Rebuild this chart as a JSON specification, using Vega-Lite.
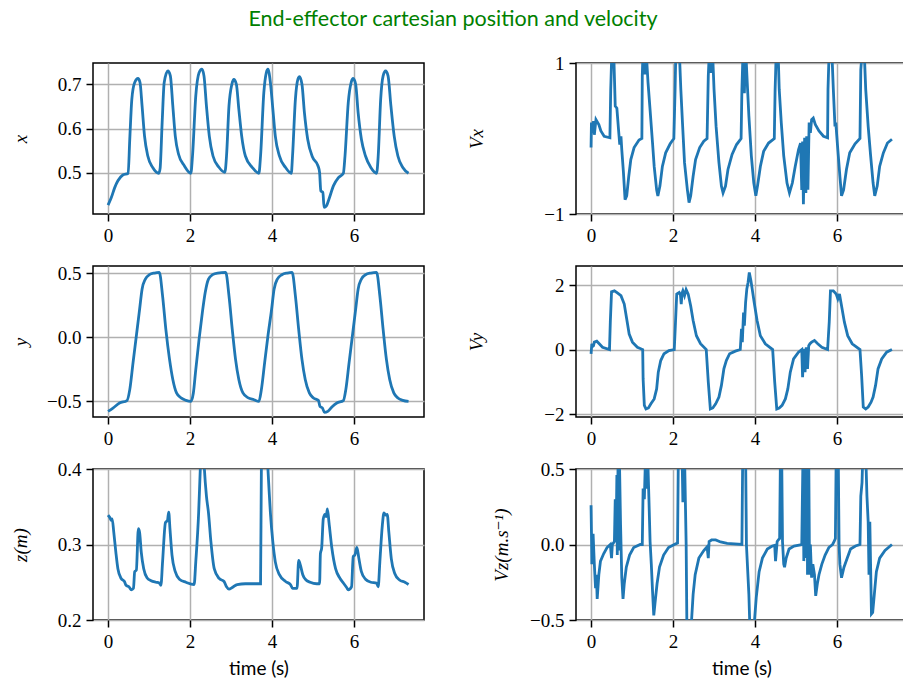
{
  "$schema": "https://vega.github.io/schema/vega-lite/v6.json",
  "padding": {"left": 10, "top": 8, "right": 0, "bottom": 5},
  "title": {"text": "End-effector cartesian position and velocity", "color": "#008000", "font": "Lato", "fontSize": 21.5, "fontWeight": "normal", "anchor": "middle", "offset": 23, "dx": -6},
  "config": {
    "view": {"stroke": "black", "strokeWidth": 1.5},
    "axis": {"domain": false, "grid": true, "gridColor": "#b0b0b0", "gridWidth": 1.5, "tickColor": "black", "tickWidth": 1.5, "tickSize": 7, "labelFont": "Liberation Serif, Times New Roman, DejaVu Serif, serif", "labelFontSize": 19, "labelColor": "black", "labelPadding": 5, "labelFlush": false, "labelOverlap": false, "titleFontWeight": "normal", "titleColor": "black", "titleFontSize": 19},
    "axisY": {"titleFont": "Liberation Serif, Times New Roman, DejaVu Serif, serif", "titleFontStyle": "italic"},
    "axisX": {"titleFont": "Lato", "titlePadding": 8},
    "line": {"color": "#1f77b4", "strokeWidth": 2.8}
  },
  "datasets": {
    "px": [{"t":0,"v":0.427},{"t":0.08,"v":0.444},{"t":0.16,"v":0.466},{"t":0.24,"v":0.482},{"t":0.36,"v":0.495},{"t":0.49,"v":0.499},{"t":0.53,"v":0.576},{"t":0.58,"v":0.666},{"t":0.65,"v":0.704},{"t":0.73,"v":0.713},{"t":0.78,"v":0.704},{"t":0.83,"v":0.651},{"t":0.89,"v":0.583},{"t":0.97,"v":0.538},{"t":1.09,"v":0.512},{"t":1.24,"v":0.499},{"t":1.27,"v":0.51},{"t":1.32,"v":0.614},{"t":1.37,"v":0.704},{"t":1.46,"v":0.73},{"t":1.52,"v":0.719},{"t":1.58,"v":0.651},{"t":1.64,"v":0.583},{"t":1.72,"v":0.542},{"t":1.86,"v":0.516},{"t":2.02,"v":0.499},{"t":2.06,"v":0.538},{"t":2.14,"v":0.674},{"t":2.22,"v":0.726},{"t":2.29,"v":0.734},{"t":2.34,"v":0.719},{"t":2.4,"v":0.651},{"t":2.47,"v":0.583},{"t":2.56,"v":0.538},{"t":2.71,"v":0.512},{"t":2.85,"v":0.501},{"t":2.89,"v":0.538},{"t":2.95,"v":0.651},{"t":3.02,"v":0.7},{"t":3.07,"v":0.711},{"t":3.13,"v":0.7},{"t":3.19,"v":0.644},{"t":3.26,"v":0.583},{"t":3.35,"v":0.538},{"t":3.52,"v":0.512},{"t":3.68,"v":0.499},{"t":3.72,"v":0.538},{"t":3.8,"v":0.681},{"t":3.86,"v":0.726},{"t":3.9,"v":0.734},{"t":3.96,"v":0.704},{"t":4.02,"v":0.644},{"t":4.08,"v":0.583},{"t":4.18,"v":0.538},{"t":4.33,"v":0.512},{"t":4.47,"v":0.499},{"t":4.5,"v":0.538},{"t":4.57,"v":0.666},{"t":4.63,"v":0.711},{"t":4.67,"v":0.717},{"t":4.73,"v":0.7},{"t":4.79,"v":0.636},{"t":4.87,"v":0.576},{"t":4.99,"v":0.535},{"t":5.12,"v":0.516},{"t":5.16,"v":0.501},{"t":5.19,"v":0.459},{"t":5.24,"v":0.456},{"t":5.27,"v":0.422},{"t":5.33,"v":0.426},{"t":5.39,"v":0.441},{"t":5.5,"v":0.471},{"t":5.62,"v":0.489},{"t":5.74,"v":0.499},{"t":5.78,"v":0.538},{"t":5.86,"v":0.659},{"t":5.93,"v":0.704},{"t":5.98,"v":0.713},{"t":6.04,"v":0.7},{"t":6.1,"v":0.636},{"t":6.18,"v":0.576},{"t":6.28,"v":0.538},{"t":6.41,"v":0.512},{"t":6.55,"v":0.499},{"t":6.59,"v":0.538},{"t":6.65,"v":0.666},{"t":6.71,"v":0.719},{"t":6.77,"v":0.73},{"t":6.83,"v":0.719},{"t":6.9,"v":0.651},{"t":6.98,"v":0.583},{"t":7.07,"v":0.538},{"t":7.19,"v":0.512},{"t":7.33,"v":0.499}],
    "py": [{"t":0,"v":-0.581},{"t":0.12,"v":-0.555},{"t":0.28,"v":-0.516},{"t":0.46,"v":-0.497},{"t":0.53,"v":-0.411},{"t":0.61,"v":-0.2},{"t":0.69,"v":0.008},{"t":0.77,"v":0.217},{"t":0.83,"v":0.374},{"t":0.91,"v":0.453},{"t":1.01,"v":0.487},{"t":1.13,"v":0.5},{"t":1.25,"v":0.505},{"t":1.33,"v":0.322},{"t":1.41,"v":0.06},{"t":1.5,"v":-0.175},{"t":1.58,"v":-0.332},{"t":1.67,"v":-0.437},{"t":1.78,"v":-0.476},{"t":1.9,"v":-0.495},{"t":2.02,"v":-0.503},{"t":2.08,"v":-0.44},{"t":2.14,"v":-0.254},{"t":2.22,"v":-0.018},{"t":2.3,"v":0.191},{"t":2.37,"v":0.348},{"t":2.45,"v":0.453},{"t":2.55,"v":0.487},{"t":2.67,"v":0.5},{"t":2.87,"v":0.505},{"t":2.95,"v":0.322},{"t":3.03,"v":0.06},{"t":3.11,"v":-0.175},{"t":3.19,"v":-0.332},{"t":3.29,"v":-0.437},{"t":3.42,"v":-0.476},{"t":3.56,"v":-0.49},{"t":3.68,"v":-0.503},{"t":3.74,"v":-0.411},{"t":3.82,"v":-0.2},{"t":3.9,"v":0.008},{"t":3.99,"v":0.217},{"t":4.05,"v":0.374},{"t":4.13,"v":0.453},{"t":4.24,"v":0.487},{"t":4.37,"v":0.5},{"t":4.49,"v":0.505},{"t":4.57,"v":0.322},{"t":4.65,"v":0.06},{"t":4.73,"v":-0.175},{"t":4.81,"v":-0.332},{"t":4.91,"v":-0.437},{"t":5.01,"v":-0.476},{"t":5.13,"v":-0.495},{"t":5.17,"v":-0.542},{"t":5.23,"v":-0.555},{"t":5.28,"v":-0.589},{"t":5.36,"v":-0.581},{"t":5.46,"v":-0.547},{"t":5.58,"v":-0.516},{"t":5.74,"v":-0.497},{"t":5.8,"v":-0.411},{"t":5.88,"v":-0.2},{"t":5.96,"v":0.008},{"t":6.04,"v":0.217},{"t":6.1,"v":0.374},{"t":6.18,"v":0.453},{"t":6.28,"v":0.487},{"t":6.41,"v":0.5},{"t":6.55,"v":0.505},{"t":6.63,"v":0.322},{"t":6.71,"v":0.06},{"t":6.79,"v":-0.175},{"t":6.87,"v":-0.332},{"t":6.97,"v":-0.437},{"t":7.07,"v":-0.476},{"t":7.19,"v":-0.495},{"t":7.33,"v":-0.503}],
    "pz": [{"t":0,"v":0.339},{"t":0.04,"v":0.336},{"t":0.08,"v":0.332},{"t":0.1,"v":0.334},{"t":0.14,"v":0.316},{"t":0.19,"v":0.29},{"t":0.24,"v":0.268},{"t":0.32,"v":0.255},{"t":0.4,"v":0.251},{"t":0.44,"v":0.246},{"t":0.51,"v":0.244},{"t":0.57,"v":0.24},{"t":0.62,"v":0.242},{"t":0.65,"v":0.264},{"t":0.69,"v":0.266},{"t":0.74,"v":0.321},{"t":0.77,"v":0.316},{"t":0.81,"v":0.29},{"t":0.87,"v":0.268},{"t":0.95,"v":0.256},{"t":1.05,"v":0.252},{"t":1.17,"v":0.25},{"t":1.25,"v":0.249},{"t":1.29,"v":0.246},{"t":1.33,"v":0.277},{"t":1.4,"v":0.329},{"t":1.45,"v":0.332},{"t":1.48,"v":0.343},{"t":1.51,"v":0.321},{"t":1.56,"v":0.286},{"t":1.64,"v":0.264},{"t":1.74,"v":0.254},{"t":1.9,"v":0.25},{"t":2.1,"v":0.247},{"t":2.14,"v":0.277},{"t":2.21,"v":0.342},{"t":2.25,"v":0.4},{"t":2.3,"v":0.46},{"t":2.35,"v":0.4},{"t":2.4,"v":0.364},{"t":2.45,"v":0.342},{"t":2.51,"v":0.303},{"t":2.59,"v":0.268},{"t":2.71,"v":0.255},{"t":2.83,"v":0.251},{"t":2.89,"v":0.244},{"t":2.95,"v":0.241},{"t":3.03,"v":0.243},{"t":3.15,"v":0.247},{"t":3.35,"v":0.248},{"t":3.72,"v":0.248},{"t":3.74,"v":0.4},{"t":3.8,"v":0.48},{"t":3.9,"v":0.4},{"t":3.93,"v":0.37},{"t":3.96,"v":0.342},{"t":4.02,"v":0.303},{"t":4.08,"v":0.277},{"t":4.18,"v":0.26},{"t":4.33,"v":0.251},{"t":4.45,"v":0.247},{"t":4.5,"v":0.242},{"t":4.61,"v":0.242},{"t":4.65,"v":0.279},{"t":4.69,"v":0.273},{"t":4.75,"v":0.26},{"t":4.83,"v":0.253},{"t":4.93,"v":0.25},{"t":5.09,"v":0.248},{"t":5.16,"v":0.248},{"t":5.18,"v":0.288},{"t":5.21,"v":0.295},{"t":5.25,"v":0.334},{"t":5.29,"v":0.34},{"t":5.32,"v":0.337},{"t":5.35,"v":0.347},{"t":5.39,"v":0.329},{"t":5.46,"v":0.295},{"t":5.55,"v":0.268},{"t":5.66,"v":0.255},{"t":5.74,"v":0.249},{"t":5.82,"v":0.243},{"t":5.86,"v":0.24},{"t":5.94,"v":0.244},{"t":5.98,"v":0.284},{"t":6.02,"v":0.286},{"t":6.07,"v":0.296},{"t":6.12,"v":0.281},{"t":6.18,"v":0.264},{"t":6.28,"v":0.254},{"t":6.41,"v":0.25},{"t":6.55,"v":0.249},{"t":6.59,"v":0.244},{"t":6.63,"v":0.277},{"t":6.69,"v":0.325},{"t":6.73,"v":0.342},{"t":6.77,"v":0.339},{"t":6.81,"v":0.34},{"t":6.85,"v":0.316},{"t":6.91,"v":0.281},{"t":6.99,"v":0.262},{"t":7.11,"v":0.253},{"t":7.24,"v":0.25},{"t":7.33,"v":0.247}],
    "vx": [{"t":0,"v":-0.12},{"t":0.01,"v":0.21},{"t":0.04,"v":0.075},{"t":0.06,"v":0.23},{"t":0.08,"v":0.05},{"t":0.12,"v":0.25},{"t":0.19,"v":0.185},{"t":0.24,"v":0.1},{"t":0.32,"v":0.03},{"t":0.46,"v":0.01},{"t":0.48,"v":0.65},{"t":0.51,"v":1.2},{"t":0.55,"v":1.2},{"t":0.59,"v":0.43},{"t":0.63,"v":0.4},{"t":0.67,"v":0.12},{"t":0.7,"v":-0.08},{"t":0.73,"v":0.03},{"t":0.75,"v":-0.15},{"t":0.79,"v":-0.45},{"t":0.83,"v":-0.81},{"t":0.87,"v":-0.76},{"t":0.92,"v":-0.5},{"t":0.97,"v":-0.28},{"t":1.05,"v":-0.12},{"t":1.17,"v":-0.02},{"t":1.24,"v":0},{"t":1.25,"v":0.83},{"t":1.27,"v":1.2},{"t":1.31,"v":0.85},{"t":1.34,"v":1.2},{"t":1.39,"v":0.74},{"t":1.44,"v":0.38},{"t":1.5,"v":-0.06},{"t":1.54,"v":-0.37},{"t":1.6,"v":-0.68},{"t":1.63,"v":-0.76},{"t":1.68,"v":-0.63},{"t":1.74,"v":-0.37},{"t":1.82,"v":-0.19},{"t":1.93,"v":-0.07},{"t":2.02,"v":0},{"t":2.05,"v":0.65},{"t":2.07,"v":1.2},{"t":2.15,"v":1.2},{"t":2.19,"v":0.65},{"t":2.23,"v":0.21},{"t":2.28,"v":-0.32},{"t":2.35,"v":-0.68},{"t":2.39,"v":-0.85},{"t":2.43,"v":-0.76},{"t":2.49,"v":-0.5},{"t":2.55,"v":-0.28},{"t":2.65,"v":-0.12},{"t":2.75,"v":-0.035},{"t":2.83,"v":0},{"t":2.86,"v":0.83},{"t":2.89,"v":1.2},{"t":2.93,"v":0.87},{"t":2.96,"v":1.2},{"t":3.0,"v":0.65},{"t":3.05,"v":0.16},{"t":3.12,"v":-0.32},{"t":3.18,"v":-0.63},{"t":3.22,"v":-0.72},{"t":3.28,"v":-0.63},{"t":3.34,"v":-0.41},{"t":3.44,"v":-0.21},{"t":3.55,"v":-0.08},{"t":3.66,"v":0},{"t":3.68,"v":0.65},{"t":3.71,"v":1.2},{"t":3.74,"v":0.6},{"t":3.77,"v":1.2},{"t":3.81,"v":0.74},{"t":3.85,"v":0.3},{"t":3.91,"v":-0.23},{"t":3.97,"v":-0.59},{"t":4.02,"v":-0.76},{"t":4.06,"v":-0.63},{"t":4.13,"v":-0.37},{"t":4.21,"v":-0.17},{"t":4.33,"v":-0.06},{"t":4.47,"v":0},{"t":4.49,"v":0.65},{"t":4.52,"v":1.2},{"t":4.56,"v":1.2},{"t":4.59,"v":0.65},{"t":4.64,"v":0.21},{"t":4.7,"v":-0.23},{"t":4.78,"v":-0.59},{"t":4.84,"v":-0.72},{"t":4.91,"v":-0.59},{"t":4.98,"v":-0.37},{"t":5.06,"v":-0.15},{"t":5.11,"v":-0.06},{"t":5.14,"v":-0.68},{"t":5.16,"v":-0.04},{"t":5.18,"v":-0.87},{"t":5.21,"v":0.01},{"t":5.24,"v":-0.72},{"t":5.26,"v":0.03},{"t":5.29,"v":-0.68},{"t":5.32,"v":0.21},{"t":5.35,"v":0.075},{"t":5.38,"v":0.25},{"t":5.42,"v":0.27},{"t":5.47,"v":0.185},{"t":5.56,"v":0.1},{"t":5.67,"v":0.03},{"t":5.77,"v":0.01},{"t":5.78,"v":0.65},{"t":5.81,"v":1.2},{"t":5.87,"v":1.2},{"t":5.91,"v":0.65},{"t":5.95,"v":0.16},{"t":5.97,"v":0.21},{"t":6.02,"v":-0.15},{"t":6.07,"v":-0.5},{"t":6.11,"v":-0.76},{"t":6.16,"v":-0.68},{"t":6.23,"v":-0.41},{"t":6.31,"v":-0.19},{"t":6.44,"v":-0.07},{"t":6.56,"v":0},{"t":6.58,"v":0.91},{"t":6.62,"v":1.2},{"t":6.66,"v":1.2},{"t":6.7,"v":0.65},{"t":6.76,"v":0.16},{"t":6.82,"v":-0.23},{"t":6.88,"v":-0.59},{"t":6.92,"v":-0.76},{"t":6.98,"v":-0.63},{"t":7.04,"v":-0.37},{"t":7.13,"v":-0.19},{"t":7.23,"v":-0.06},{"t":7.34,"v":-0.01}],
    "vy": [{"t":0,"v":-0.13},{"t":0.02,"v":0.18},{"t":0.04,"v":0.1},{"t":0.06,"v":0.12},{"t":0.08,"v":0.23},{"t":0.14,"v":0.26},{"t":0.2,"v":0.18},{"t":0.28,"v":0.07},{"t":0.45,"v":0},{"t":0.47,"v":0.85},{"t":0.5,"v":1.79},{"t":0.57,"v":1.82},{"t":0.65,"v":1.75},{"t":0.73,"v":1.67},{"t":0.81,"v":1.41},{"t":0.87,"v":0.95},{"t":0.93,"v":0.48},{"t":1.01,"v":0.23},{"t":1.13,"v":0.07},{"t":1.26,"v":0},{"t":1.27,"v":-0.91},{"t":1.3,"v":-1.73},{"t":1.34,"v":-1.84},{"t":1.4,"v":-1.81},{"t":1.46,"v":-1.68},{"t":1.54,"v":-1.53},{"t":1.6,"v":-1.22},{"t":1.64,"v":-0.7},{"t":1.7,"v":-0.34},{"t":1.78,"v":-0.13},{"t":1.9,"v":-0.03},{"t":2.03,"v":0},{"t":2.06,"v":0.85},{"t":2.09,"v":1.72},{"t":2.15,"v":1.77},{"t":2.18,"v":1.7},{"t":2.2,"v":1.41},{"t":2.22,"v":1.75},{"t":2.24,"v":1.82},{"t":2.28,"v":1.67},{"t":2.32,"v":1.86},{"t":2.37,"v":1.72},{"t":2.43,"v":1.36},{"t":2.49,"v":0.9},{"t":2.57,"v":0.43},{"t":2.67,"v":0.18},{"t":2.81,"v":0},{"t":2.86,"v":-1.01},{"t":2.91,"v":-1.84},{"t":2.97,"v":-1.81},{"t":3.04,"v":-1.68},{"t":3.12,"v":-1.47},{"t":3.18,"v":-1.11},{"t":3.24,"v":-0.6},{"t":3.3,"v":-0.34},{"t":3.38,"v":-0.13},{"t":3.52,"v":-0.05},{"t":3.64,"v":0},{"t":3.67,"v":0.64},{"t":3.69,"v":0.23},{"t":3.72,"v":1.15},{"t":3.74,"v":0.74},{"t":3.77,"v":1.46},{"t":3.8,"v":1.88},{"t":3.83,"v":2.08},{"t":3.86,"v":2.39},{"t":3.9,"v":2.13},{"t":3.93,"v":1.88},{"t":3.98,"v":1.46},{"t":4.05,"v":0.9},{"t":4.13,"v":0.43},{"t":4.25,"v":0.18},{"t":4.43,"v":0},{"t":4.48,"v":-1.01},{"t":4.53,"v":-1.84},{"t":4.59,"v":-1.81},{"t":4.66,"v":-1.73},{"t":4.74,"v":-1.53},{"t":4.8,"v":-1.22},{"t":4.86,"v":-0.7},{"t":4.94,"v":-0.29},{"t":5.06,"v":-0.08},{"t":5.14,"v":0},{"t":5.16,"v":-0.86},{"t":5.19,"v":0.02},{"t":5.22,"v":-0.7},{"t":5.25,"v":0.07},{"t":5.28,"v":-0.6},{"t":5.31,"v":0.12},{"t":5.34,"v":0.18},{"t":5.38,"v":0.23},{"t":5.45,"v":0.28},{"t":5.53,"v":0.18},{"t":5.63,"v":0.07},{"t":5.77,"v":0},{"t":5.81,"v":0.85},{"t":5.84,"v":1.82},{"t":5.91,"v":1.82},{"t":5.98,"v":1.72},{"t":6.02,"v":1.57},{"t":6.06,"v":1.72},{"t":6.11,"v":1.36},{"t":6.18,"v":0.85},{"t":6.26,"v":0.43},{"t":6.37,"v":0.18},{"t":6.56,"v":0},{"t":6.6,"v":-0.8},{"t":6.64,"v":-1.78},{"t":6.7,"v":-1.84},{"t":6.76,"v":-1.78},{"t":6.83,"v":-1.63},{"t":6.88,"v":-1.47},{"t":6.94,"v":-1.11},{"t":7.0,"v":-0.6},{"t":7.09,"v":-0.29},{"t":7.21,"v":-0.08},{"t":7.34,"v":0}],
    "vz": [{"t":0,"v":0.26},{"t":0.01,"v":0.08},{"t":0.02,"v":-0.13},{"t":0.05,"v":0.07},{"t":0.08,"v":-0.13},{"t":0.11,"v":-0.29},{"t":0.13,"v":-0.2},{"t":0.15,"v":-0.36},{"t":0.19,"v":-0.2},{"t":0.23,"v":-0.11},{"t":0.31,"v":-0.06},{"t":0.39,"v":-0.02},{"t":0.47,"v":0},{"t":0.5,"v":-0.09},{"t":0.52,"v":0},{"t":0.57,"v":0.02},{"t":0.59,"v":0.3},{"t":0.61,"v":0.02},{"t":0.63,"v":0.46},{"t":0.64,"v":-0.07},{"t":0.66,"v":0.6},{"t":0.67,"v":-0.04},{"t":0.69,"v":0.6},{"t":0.72,"v":0.13},{"t":0.75,"v":-0.22},{"t":0.78,"v":-0.36},{"t":0.81,"v":-0.26},{"t":0.86,"v":-0.15},{"t":0.94,"v":-0.07},{"t":1.04,"v":-0.02},{"t":1.2,"v":0},{"t":1.25,"v":0},{"t":1.27,"v":0.37},{"t":1.3,"v":0.3},{"t":1.33,"v":0.6},{"t":1.35,"v":0.37},{"t":1.38,"v":0.6},{"t":1.41,"v":0.32},{"t":1.44,"v":0.02},{"t":1.47,"v":-0.13},{"t":1.5,"v":-0.31},{"t":1.53,"v":-0.47},{"t":1.56,"v":-0.39},{"t":1.61,"v":-0.26},{"t":1.67,"v":-0.15},{"t":1.77,"v":-0.07},{"t":1.89,"v":-0.02},{"t":2.03,"v":0},{"t":2.11,"v":0.01},{"t":2.13,"v":0.6},{"t":2.22,"v":0.6},{"t":2.24,"v":0.28},{"t":2.28,"v":0.6},{"t":2.32,"v":0},{"t":2.34,"v":-0.6},{"t":2.43,"v":-0.6},{"t":2.49,"v":-0.33},{"t":2.54,"v":-0.2},{"t":2.63,"v":-0.09},{"t":2.75,"v":-0.04},{"t":2.83,"v":-0.015},{"t":2.86,"v":-0.09},{"t":2.88,"v":0.02},{"t":2.94,"v":0.03},{"t":3.04,"v":0.03},{"t":3.16,"v":0.017},{"t":3.32,"v":0.007},{"t":3.68,"v":0},{"t":3.7,"v":0.6},{"t":3.77,"v":0.6},{"t":3.79,"v":0},{"t":3.85,"v":-0.33},{"t":3.88,"v":-0.6},{"t":3.96,"v":-0.6},{"t":4.03,"v":-0.35},{"t":4.1,"v":-0.18},{"t":4.18,"v":-0.09},{"t":4.3,"v":-0.03},{"t":4.42,"v":-0.01},{"t":4.48,"v":-0.005},{"t":4.5,"v":-0.11},{"t":4.54,"v":0.02},{"t":4.57,"v":0.03},{"t":4.6,"v":0.04},{"t":4.62,"v":0.6},{"t":4.65,"v":0.6},{"t":4.67,"v":0.02},{"t":4.7,"v":-0.13},{"t":4.72,"v":-0.15},{"t":4.76,"v":-0.09},{"t":4.83,"v":-0.03},{"t":4.95,"v":-0.01},{"t":5.14,"v":0},{"t":5.17,"v":0.6},{"t":5.19,"v":-0.11},{"t":5.22,"v":0.6},{"t":5.24,"v":-0.09},{"t":5.27,"v":0.6},{"t":5.28,"v":-0.2},{"t":5.31,"v":0.6},{"t":5.33,"v":-0.2},{"t":5.35,"v":0},{"t":5.38,"v":-0.22},{"t":5.41,"v":-0.13},{"t":5.45,"v":-0.2},{"t":5.48,"v":-0.34},{"t":5.52,"v":-0.26},{"t":5.56,"v":-0.2},{"t":5.63,"v":-0.13},{"t":5.71,"v":-0.07},{"t":5.8,"v":-0.02},{"t":5.89,"v":0},{"t":5.93,"v":0.02},{"t":5.96,"v":0.04},{"t":5.98,"v":0.6},{"t":6.03,"v":0.6},{"t":6.05,"v":0},{"t":6.07,"v":-0.13},{"t":6.11,"v":-0.22},{"t":6.17,"v":-0.15},{"t":6.25,"v":-0.09},{"t":6.33,"v":-0.03},{"t":6.45,"v":-0.01},{"t":6.56,"v":0},{"t":6.58,"v":0.32},{"t":6.61,"v":0.41},{"t":6.63,"v":0.6},{"t":6.7,"v":0.6},{"t":6.73,"v":0.32},{"t":6.76,"v":0.15},{"t":6.78,"v":-0.2},{"t":6.8,"v":0.15},{"t":6.84,"v":-0.46},{"t":6.87,"v":-0.45},{"t":6.91,"v":-0.33},{"t":6.96,"v":-0.18},{"t":7.04,"v":-0.09},{"t":7.17,"v":-0.04},{"t":7.34,"v":0}]
  },
  "columns": 2,
  "bounds": "flush",
  "spacing": {"row": 52, "column": 152},
  "concat": [
    {"width": 331, "height": 151, "data": {"name": "px"}, "mark": {"type": "line", "interpolate": "monotone", "clip": true},
     "encoding": {
       "x": {"field": "t", "type": "quantitative", "scale": {"domain": [-0.367, 7.707], "nice": false, "zero": false}, "axis": {"values": [0, 2, 4, 6], "format": "d", "title": null}},
       "y": {"field": "v", "type": "quantitative", "scale": {"domain": [0.407, 0.748], "nice": false, "zero": false}, "axis": {"values": [0.5, 0.6, 0.7], "format": ".1f", "title": "x", "titleX": -63}}}},
    {"width": 331, "height": 151, "data": {"name": "vx"}, "mark": {"type": "line", "clip": true},
     "encoding": {
       "x": {"field": "t", "type": "quantitative", "scale": {"domain": [-0.367, 7.707], "nice": false, "zero": false}, "axis": {"values": [0, 2, 4, 6], "format": "d", "title": null}},
       "y": {"field": "v", "type": "quantitative", "scale": {"domain": [-1, 1], "nice": false, "zero": false}, "axis": {"values": [-1, 0, 1], "format": "d", "title": "Vx", "titleX": -90}}}},
    {"width": 331, "height": 151, "data": {"name": "py"}, "mark": {"type": "line", "interpolate": "monotone", "clip": true},
     "encoding": {
       "x": {"field": "t", "type": "quantitative", "scale": {"domain": [-0.367, 7.707], "nice": false, "zero": false}, "axis": {"values": [0, 2, 4, 6], "format": "d", "title": null}},
       "y": {"field": "v", "type": "quantitative", "scale": {"domain": [-0.625, 0.555], "nice": false, "zero": false}, "axis": {"values": [-0.5, 0, 0.5], "format": ".1f", "title": "y", "titleX": -63}}}},
    {"width": 331, "height": 151, "data": {"name": "vy"}, "mark": {"type": "line", "clip": true},
     "encoding": {
       "x": {"field": "t", "type": "quantitative", "scale": {"domain": [-0.367, 7.707], "nice": false, "zero": false}, "axis": {"values": [0, 2, 4, 6], "format": "d", "title": null}},
       "y": {"field": "v", "type": "quantitative", "scale": {"domain": [-2.09, 2.59], "nice": false, "zero": false}, "axis": {"values": [-2, 0, 2], "format": "d", "title": "Vy", "titleX": -90}}}},
    {"width": 331, "height": 151, "data": {"name": "pz"}, "mark": {"type": "line", "interpolate": "monotone", "clip": true},
     "encoding": {
       "x": {"field": "t", "type": "quantitative", "scale": {"domain": [-0.367, 7.707], "nice": false, "zero": false}, "axis": {"values": [0, 2, 4, 6], "format": "d", "title": "time (s)"}},
       "y": {"field": "v", "type": "quantitative", "scale": {"domain": [0.2, 0.4], "nice": false, "zero": false}, "axis": {"values": [0.2, 0.3, 0.4], "format": ".1f", "title": "z(m)", "titleX": -63}}}},
    {"width": 331, "height": 151, "data": {"name": "vz"}, "mark": {"type": "line", "clip": true},
     "encoding": {
       "x": {"field": "t", "type": "quantitative", "scale": {"domain": [-0.367, 7.707], "nice": false, "zero": false}, "axis": {"values": [0, 2, 4, 6], "format": "d", "title": "time (s)"}},
       "y": {"field": "v", "type": "quantitative", "scale": {"domain": [-0.5, 0.5], "nice": false, "zero": false}, "axis": {"values": [-0.5, 0, 0.5], "format": ".1f", "title": "Vz(m.s⁻¹)", "titleX": -65}}}}
  ]
}
